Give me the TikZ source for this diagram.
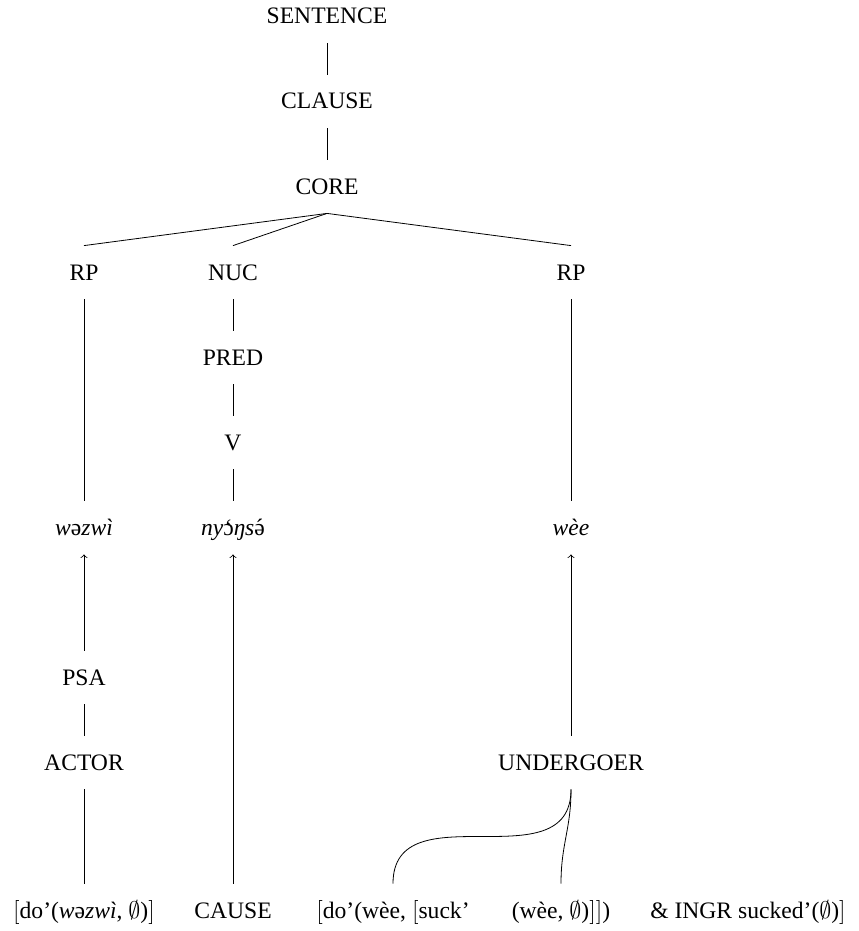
\documentclass[tikz,border=0pt]{standalone}
\usepackage{fontspec}
\setmainfont{Liberation Serif}
\newcommand{\ipa}[1]{{\upshape #1}}
% grave and acute set with the \accent primitive, so they sit centred over the vowel
\newcommand{\grv}[1]{{\upshape\accent"0060 #1}}
\newcommand{\acu}[1]{{\upshape\accent"00B4 #1}}
\begin{document}
\begin{tikzpicture}[x=0.5pt,y=-0.5pt,
  lbl/.style={anchor=base, inner xsep=1pt, inner ysep=9pt,
    text height=8pt, text depth=0.5pt,
    font=\fontsize{11.8}{14}\selectfont},
  branch/.style={line width=0.4pt},
  link/.style={->, line width=0.4pt}]
\useasboundingbox (0,0) rectangle (858,931);

% syntactic structure
\node[lbl] (sentence) at (327,24)  {SENTENCE};
\node[lbl] (clause)   at (327,109) {CLAUSE};
\node[lbl] (core)     at (327,194) {CORE};
\node[lbl] (rpa)      at (84,280)  {RP};
\node[lbl] (nuc)      at (233,280) {NUC};
\node[lbl] (rpb)      at (571,280) {RP};
\node[lbl] (pred)     at (233,365) {PRED};
\node[lbl] (verb)     at (233,450) {V};

% words
\node[lbl] (wa) at (84,535)  {\itshape w\ipa{ə}zwì};
\node[lbl] (wb) at (233,535) {\itshape ny\grv{ɔ}ŋs\acu{ə}};
\node[lbl] (wc) at (571,535) {\itshape wèe};

% semantic side
\node[lbl] (psa)   at (84,685)  {PSA};
\node[lbl] (actor) at (84,770)  {ACTOR};
\node[lbl] (und)   at (571,770) {UNDERGOER};

% logical structure
\node[lbl] (lsa) at (84,918)  {$[$do’(\textit{w\ipa{ə}zwì}, $\emptyset$)$]$};
\node[lbl] (lsb) at (233,918) {CAUSE};
\node[lbl] (lsc) at (393,918) {$[$do’(wèe, $[$suck’};
\node[lbl] (lsd) at (561,918) {(wèe, $\emptyset$)$]$$]$)};
\node[lbl] (lse) at (748,918) {\& INGR sucked’($\emptyset$)$]$};

% tree branches
\draw[branch] (sentence.south) -- (clause.north);
\draw[branch] (clause.south) -- (core.north);
\draw[branch] (core.south) -- (rpa.north);
\draw[branch] (core.south) -- (nuc.north);
\draw[branch] (core.south) -- (rpb.north);
\draw[branch] (nuc.south) -- (pred.north);
\draw[branch] (pred.south) -- (verb.north);
\draw[branch] (rpa.south) -- (wa.north);
\draw[branch] (verb.south) -- (wb.north);
\draw[branch] (rpb.south) -- (wc.north);
\draw[branch] (psa.south) -- (actor.north);
\draw[branch] (actor.south) -- (lsa.north);

% linking arrows
\draw[link] (psa.north) -- (wa.south);
\draw[link] (lsb.north) -- (wb.south);
\draw[link] (und.north) -- (wc.south);

% undergoer arguments
\draw[branch] (und.south) .. controls (und.south |- lsc.north) and (lsc.north |- und.south) .. (lsc.north);
\draw[branch] (und.south) .. controls +(0,40) and +(0,-40) .. (lsd.north);
\end{tikzpicture}
\end{document}
